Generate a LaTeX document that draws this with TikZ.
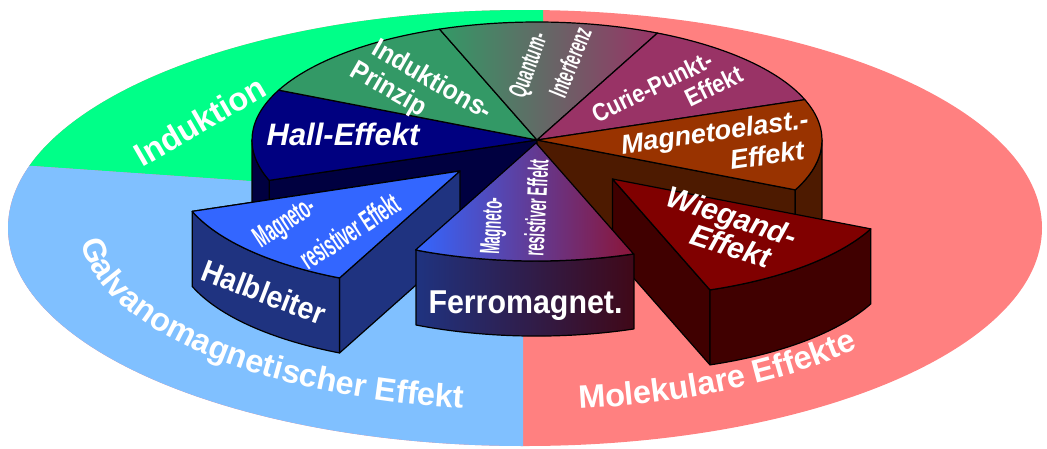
\documentclass[tikz,border=0pt]{standalone}
\usepackage{fontspec}
\setmainfont{Liberation Sans}
\newfontfamily\cnA[FakeStretch=0.92]{Liberation Sans}
\newfontfamily\cnB[FakeStretch=0.87]{Liberation Sans}
\newfontfamily\cnC[FakeStretch=0.55]{Liberation Sans}
\newfontfamily\cnD[FakeStretch=0.5]{Liberation Sans}
\newfontfamily\cnE[FakeStretch=0.46]{Liberation Sans}
\usetikzlibrary{decorations.text}
\definecolor{bgGreen}{HTML}{00FF88}
\definecolor{bgBlue}{HTML}{80C0FF}
\definecolor{bgRed}{HTML}{FF8080}
\definecolor{hallTop}{HTML}{000080}
\definecolor{hallSide}{HTML}{000040}
\definecolor{indTop}{HTML}{339966}
\definecolor{curieTop}{HTML}{993366}
\definecolor{mageTop}{HTML}{993300}
\definecolor{mageSide}{HTML}{4D1A00}
\definecolor{halbTop}{HTML}{3366FF}
\definecolor{halbSide}{HTML}{1F3380}
\definecolor{wieTop}{HTML}{800000}
\definecolor{wieSide}{HTML}{400000}
\definecolor{ferTopL}{HTML}{3366FF}
\definecolor{ferTopR}{HTML}{8B1538}
\definecolor{ferSideL}{HTML}{1F3380}
\definecolor{ferSideR}{HTML}{400818}
\begin{document}
\begin{tikzpicture}[x=1pt,y=1pt,
  face/.style={draw=black, line width=1.2pt, line join=round},
  lbl/.style={text=white, inner sep=0pt, align=center},
  rimA/.style={x radius=285pt, y radius=118pt}]
\useasboundingbox (0,0) rectangle (1047,-448);
% ---------- background ellipse ----------
\begin{scope}
\clip (525,-228) ellipse [x radius=517pt, y radius=218pt];
\fill[bgRed] (0,0) rectangle (1047,-448);
\fill[bgGreen] (0,10) -- (543,10) -- (543,-205) -- (250,-181) -- (0,-163.7) -- cycle;
\fill[bgBlue] (0,-163.7) -- (250,-181) -- (523,-200) -- (523,-460) -- (0,-460) -- cycle;
\end{scope}
% ---------- main pie ----------
\coordinate (C) at (537,-140);
\coordinate (Cb) at (537,-215);
\path[face, fill=hallSide] (C) -- ++(200:285 and 118) -- ++(0,-75) -- (Cb) -- cycle;
\path[face, fill=mageSide] (C) -- ++(335:285 and 118) -- ++(0,-75) -- (Cb) -- cycle;
\path[face, fill=hallSide] (252,-140) arc[start angle=180, end angle=200, rimA] -- ++(0,-75) arc[start angle=200, end angle=180, rimA] -- cycle;
\path[face, fill=mageSide] (822,-140) -- ++(0,-75) arc[start angle=0, end angle=-25, rimA] -- ++(0,75) arc[start angle=-25, end angle=0, rimA] -- cycle;
\path[face, fill=hallTop] (C) -- ++(155:285 and 118) arc[start angle=155, end angle=200, rimA] -- cycle;
\path[face, fill=indTop] (C) -- ++(110:285 and 118) arc[start angle=110, end angle=155, rimA] -- cycle;
\path[face, left color=indTop, right color=curieTop] (C) -- ++(65:285 and 118) arc[start angle=65, end angle=110, rimA] -- cycle;
\path[face, fill=curieTop] (C) -- ++(20:285 and 118) arc[start angle=20, end angle=65, rimA] -- cycle;
\path[face, fill=mageTop] (C) -- ++(-25:285 and 118) arc[start angle=-25, end angle=20, rimA] -- cycle;
% ---------- Halbleiter slice ----------
\begin{scope}[shift={(-77,-31)}]
\path[face, fill=halbSide] (537,-140) -- ++(245:285 and 118) -- ++(0,-75) -- (537,-215) -- cycle;
\path[face, fill=halbSide] (537,-140) -- ++(200:285 and 118) -- ++(0,-75) arc[start angle=200, end angle=245, rimA] -- ++(0,75) arc[start angle=245, end angle=200, rimA];
\path[face, fill=halbTop] (537,-140) -- ++(200:285 and 118) arc[start angle=200, end angle=245, rimA] -- cycle;
\end{scope}
% ---------- Wiegand slice ----------
\begin{scope}[shift={(75.5,-39)}]
\path[face, fill=wieSide] (537,-140) -- ++(290:285 and 118) -- ++(0,-75) -- (537,-215) -- cycle;
\path[face, fill=wieSide] (537,-140) -- ++(290:285 and 118) -- ++(0,-75) arc[start angle=290, end angle=335, rimA] -- ++(0,75) arc[start angle=335, end angle=290, rimA];
\path[face, fill=wieTop] (537,-140) -- ++(290:285 and 118) arc[start angle=290, end angle=335, rimA] -- cycle;
\end{scope}
% ---------- Ferromagnet slice ----------
\begin{scope}[shift={(-1,-3)}]
\path[face, left color=ferSideL, right color=ferSideR] (417,-247) -- ++(0,-75) arc[start angle=245, end angle=290, rimA] -- ++(0,75) arc[start angle=290, end angle=245, rimA] -- cycle;
\path[face, left color=ferTopL, right color=ferTopR] (537,-140) -- ++(245:285 and 118) arc[start angle=245, end angle=290, rimA] -- cycle;
\end{scope}
% ---------- background labels ----------
\node[lbl, font=\fontsize{32.5}{32.5}\selectfont\bfseries, rotate=30] (tInduktion) at (200,-121) {Induktion};
\path[decorate, decoration={text along path, text color=white, text align={left indent=14pt},
  text={|\fontsize{32.5}{32.5}\selectfont\bfseries|Galvanomagnetischer Effekt}}]
  (80,-228) arc[start angle=180, end angle=275, x radius=445pt, y radius=182pt];
\path[decorate, decoration={text along path, text color=white, text align={left indent=54pt},
  text={|\fontsize{32.5}{32.5}\selectfont\bfseries|Molekulare Effekte}}]
  (525,-410) arc[start angle=270, end angle=345, x radius=445pt, y radius=182pt];
% ---------- slice labels ----------
\node[lbl, font=\fontsize{31}{31}\selectfont\bfseries\itshape, anchor=base] (tHall) at (343,-145) {Hall-Effekt};
\node[lbl, font=\cnA\fontsize{27}{27}\selectfont\bfseries, rotate=-30] (tIndA) at (433,-79) {Induktions-};
\node[lbl, font=\cnA\fontsize{27}{27}\selectfont\bfseries, rotate=-30] (tIndB) at (388,-90) {Prinzip};
\node[lbl, font=\cnC\fontsize{26}{26}\selectfont\bfseries, rotate=70] (tQuA) at (530,-66) {Quantum-};
\node[lbl, font=\cnC\fontsize{26}{26}\selectfont\bfseries, rotate=68] (tQuB) at (570,-62) {Interferenz};
\node[lbl, font=\cnB\fontsize{25}{25}\selectfont\bfseries, rotate=26] (tCuA) at (652,-87) {Curie-Punkt-};
\node[lbl, font=\cnB\fontsize{25}{25}\selectfont\bfseries, rotate=26] (tCuB) at (714,-86) {Effekt};
\node[lbl, font=\fontsize{27}{27}\selectfont\bfseries\itshape, rotate=8] (tMaA) at (715,-134) {Magnetoelast.-};
\node[lbl, font=\fontsize{27}{27}\selectfont\bfseries\itshape, rotate=8] (tMaB) at (767,-155) {Effekt};
\node[lbl, font=\fontsize{30}{30}\selectfont\bfseries\itshape, rotate=-18] (tWiA) at (731,-219) {Wiegand-};
\node[lbl, font=\fontsize{30}{30}\selectfont\bfseries\itshape, rotate=-18] (tWiB) at (731,-246) {Effekt};
\node[lbl, font=\cnD\fontsize{30}{30}\selectfont\bfseries, rotate=33] (tHmA) at (286,-224) {Magneto-};
\node[lbl, font=\cnD\fontsize{30}{30}\selectfont\bfseries, rotate=33] (tHmB) at (350,-231) {resistiver Effekt};
\node[lbl, font=\cnE\fontsize{28}{28}\selectfont\bfseries, rotate=87] (tFmA) at (494,-226) {Magneto-};
\node[lbl, font=\cnE\fontsize{28}{28}\selectfont\bfseries, rotate=87] (tFmB) at (536,-208) {resistiver Effekt};
\node[lbl, font=\cnA\fontsize{31}{31}\selectfont\bfseries, rotate=-21] (tHalb) at (264,-292) {Halbleiter};
\node[lbl, font=\cnA\fontsize{33}{33}\selectfont\bfseries, anchor=base] (tFerro) at (525.5,-313) {Ferromagnet.};
\end{tikzpicture}
\end{document}
